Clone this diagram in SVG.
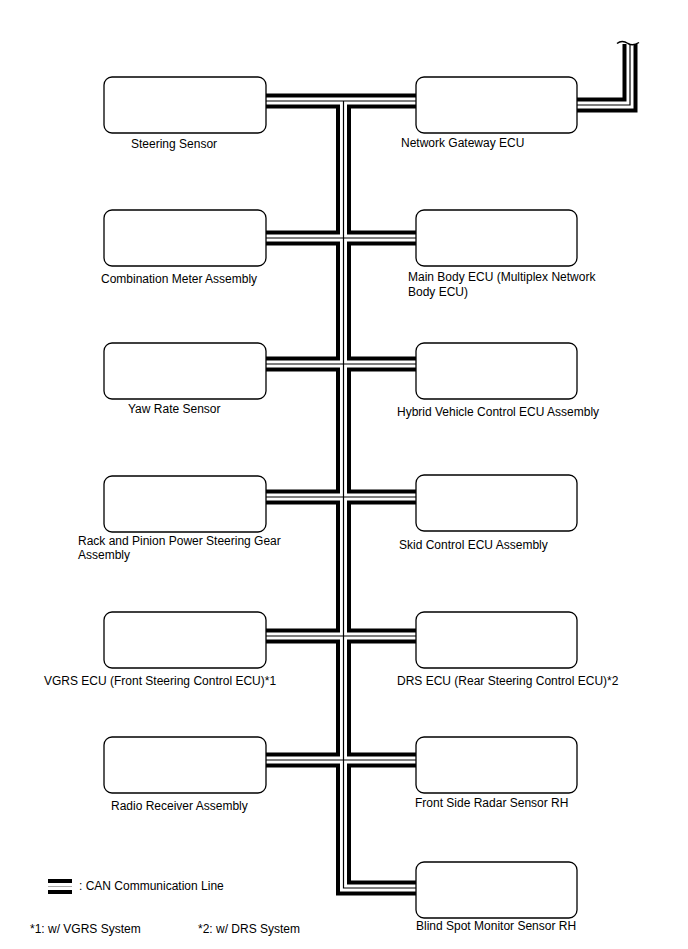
<svg xmlns="http://www.w3.org/2000/svg" xmlns:xlink="http://www.w3.org/1999/xlink" width="688" height="949" viewBox="0 0 688 949">
<style>
.box{fill:#fff;stroke:#000;stroke-width:1.3}
.lbl{font-family:"Liberation Sans",Arial,sans-serif;font-size:12px;fill:#000}
.b{fill:none;stroke:#000;stroke-width:15}
.w{fill:none;stroke:#fff;stroke-width:7}
.t{fill:none;stroke:#000;stroke-width:1.2}
</style>
<defs>
<path id="bus" d="M266,101 H416 M343.5,101 V888 H416 M266,238 H416 M266,364 H416 M266,497 H416 M266,636 H416 M266,760 H416 M577,105 H630 V44"/>
</defs>
<g id="connectors">
<use xlink:href="#bus" class="b"/>
<use xlink:href="#bus" class="w"/>
<use xlink:href="#bus" class="t"/>
<path d="M617,43.5 q5,-4 11,0 q5,3 11,-1" fill="none" stroke="#000" stroke-width="1.5"/>
</g>
<g id="n1"><rect class="box" x="104" y="77" width="162" height="56" rx="8"/><text class="lbl" x="131" y="148">Steering Sensor</text></g>
<g id="n2"><rect class="box" x="416" y="77" width="161" height="56" rx="8"/><text class="lbl" x="401" y="147">Network Gateway ECU</text></g>
<g id="n3"><rect class="box" x="104" y="210" width="162" height="56" rx="8"/><text class="lbl" x="101" y="283">Combination Meter Assembly</text></g>
<g id="n4"><rect class="box" x="416" y="210" width="161" height="56" rx="8"/><text class="lbl" x="408" y="281">Main Body ECU (Multiplex Network</text><text class="lbl" x="408" y="296">Body ECU)</text></g>
<g id="n5"><rect class="box" x="104" y="343" width="162" height="56" rx="8"/><text class="lbl" x="128" y="413">Yaw Rate Sensor</text></g>
<g id="n6"><rect class="box" x="416" y="343" width="161" height="56" rx="8"/><text class="lbl" x="397" y="416">Hybrid Vehicle Control ECU Assembly</text></g>
<g id="n7"><rect class="box" x="104" y="476" width="162" height="56" rx="8"/><text class="lbl" x="78" y="545">Rack and Pinion Power Steering Gear</text><text class="lbl" x="78" y="559">Assembly</text></g>
<g id="n8"><rect class="box" x="416" y="475" width="161" height="56" rx="8"/><text class="lbl" x="399" y="549">Skid Control ECU Assembly</text></g>
<g id="n9"><rect class="box" x="104" y="612" width="162" height="56" rx="8"/><text class="lbl" x="44" y="685">VGRS ECU (Front Steering Control ECU)*1</text></g>
<g id="n10"><rect class="box" x="416" y="612" width="161" height="56" rx="8"/><text class="lbl" x="397" y="685">DRS ECU (Rear Steering Control ECU)*2</text></g>
<g id="n11"><rect class="box" x="104" y="737" width="162" height="56" rx="8"/><text class="lbl" x="111" y="810">Radio Receiver Assembly</text></g>
<g id="n12"><rect class="box" x="416" y="737" width="161" height="56" rx="8"/><text class="lbl" x="415" y="807">Front Side Radar Sensor RH</text></g>
<g id="n13"><rect class="box" x="416" y="862" width="161" height="56" rx="8"/><text class="lbl" x="416" y="930">Blind Spot Monitor Sensor RH</text></g>
<g id="legend">
<path d="M48,886.5 H72" class="b"/>
<path d="M48,886.5 H72" class="w"/>
<path d="M48,886.5 H72" fill="none" stroke="#aaa" stroke-width="1"/>
<text class="lbl" x="79" y="890">: CAN Communication Line</text>
<text class="lbl" x="30" y="933">*1: w/ VGRS System</text>
<text class="lbl" x="198" y="933">*2: w/ DRS System</text>
</g>
</svg>
